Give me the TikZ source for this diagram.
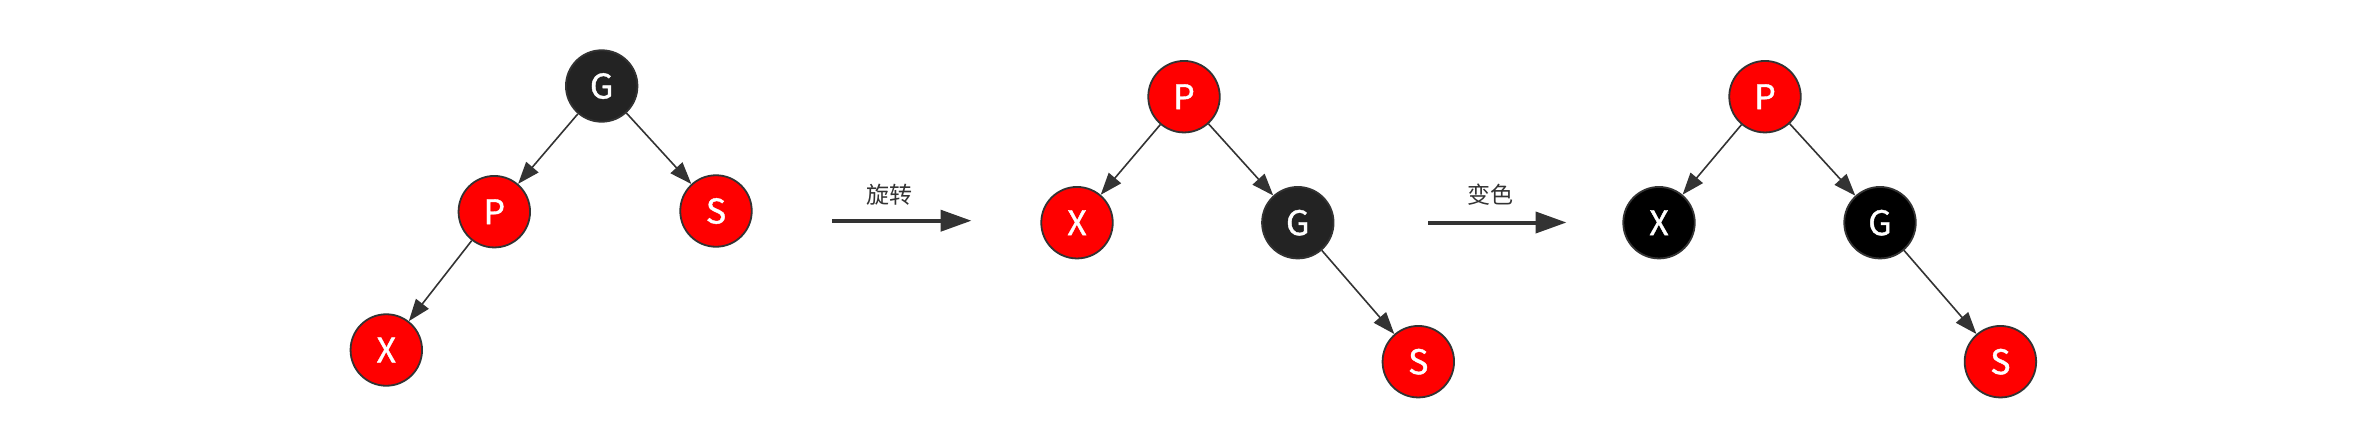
\documentclass[tikz,border=0pt]{standalone}
\usepackage{fontspec}
\setmainfont{Noto Sans CJK SC}
\newfontfamily\letterfont{Noto Sans CJK SC}[FakeBold=1.2]
\usetikzlibrary{arrows.meta}
\definecolor{nodered}{HTML}{FF0000}
\definecolor{darkfill}{HTML}{232323}
\definecolor{edgegray}{HTML}{333333}
\begin{document}
\begin{tikzpicture}[x=1pt,y=-1pt,
  rbnode/.style={circle, draw=edgegray, line width=1.8pt, minimum size=71.5pt, inner sep=0pt,
    text=white, font=\letterfont\fontsize{34}{34}\selectfont, text height=25pt, text depth=0pt},
  rednode/.style={rbnode, fill=nodered},
  darknode/.style={rbnode, fill=darkfill},
  blacknode/.style={rbnode, fill=black},
  edge/.style={draw=edgegray, line width=1.6pt, -{Triangle[length=22pt,width=16pt]}},
  bigarrow/.style={draw=edgegray, line width=4pt, -{Triangle[length=31pt,width=21pt]}},
  steplabel/.style={text=edgegray, font=\fontsize{23}{23}\selectfont, inner sep=0pt}
]
\useasboundingbox[fill=white] (0,0) rectangle (2368,447);

% first tree
\node[darknode] (G1) at (601.7,86) {G};
\node[rednode] (P1) at (494.3,211.7) {P};
\node[rednode] (S1) at (716,211) {S};
\node[rednode] (X1) at (386.3,350) {X};
\draw[edge] (G1) -- (P1);
\draw[edge] (G1) -- (S1);
\draw[edge] (P1) -- (X1);

% rotation arrow
\coordinate (A1s) at (832,220.7);
\coordinate (A1e) at (971.5,220.7);
\draw[bigarrow] (A1s) -- (A1e);
\node[steplabel] (L1) at (889,195) {旋转};

% second tree
\node[rednode] (P2) at (1184,96.7) {P};
\node[rednode] (X2) at (1077,222.7) {X};
\node[darknode] (G2) at (1297.8,222.7) {G};
\node[rednode] (S2) at (1418.3,361.7) {S};
\draw[edge] (P2) -- (X2);
\draw[edge] (P2) -- (G2);
\draw[edge] (G2) -- (S2);

% recolor arrow
\coordinate (A2s) at (1428,222.5);
\coordinate (A2e) at (1566.5,222.5);
\draw[bigarrow] (A2s) -- (A2e);
\node[steplabel] (L2) at (1490.6,195) {变色};

% third tree
\node[rednode] (P3) at (1765,96.7) {P};
\node[blacknode] (X3) at (1659,222.7) {X};
\node[blacknode] (G3) at (1880,222.7) {G};
\node[rednode] (S3) at (2000.4,361.7) {S};
\draw[edge] (P3) -- (X3);
\draw[edge] (P3) -- (G3);
\draw[edge] (G3) -- (S3);
\end{tikzpicture}
\end{document}
